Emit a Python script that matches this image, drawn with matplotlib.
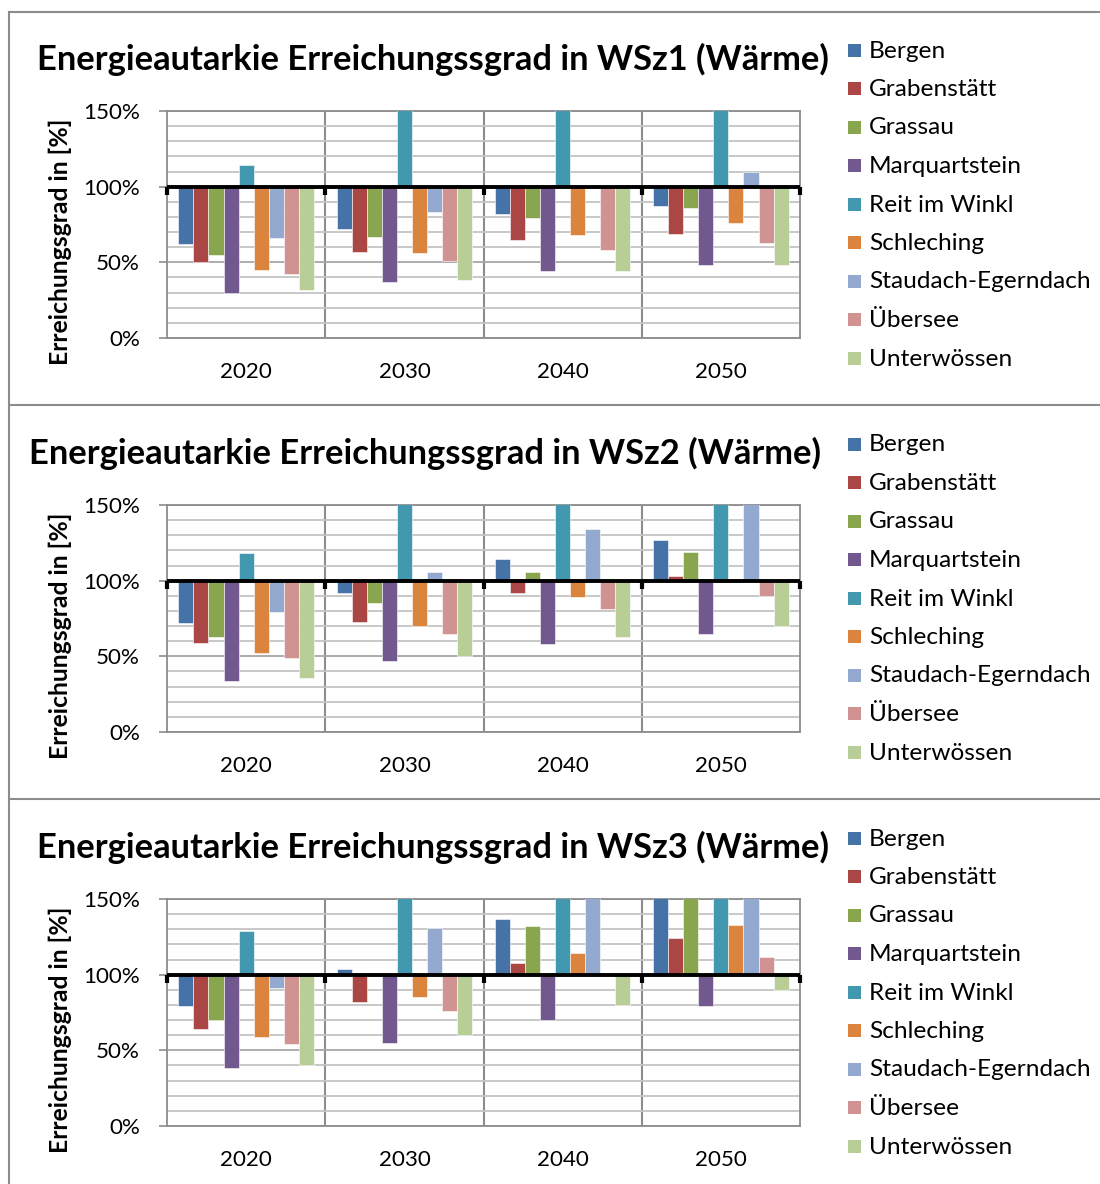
import matplotlib
matplotlib.use('Agg')
import matplotlib.pyplot as plt
from matplotlib.patches import Rectangle
from matplotlib.lines import Line2D
from matplotlib.ticker import MultipleLocator, FuncFormatter
import matplotlib.markers as mmarkers
import numpy as np

# ---------------- data ----------------
years = ['2020', '2030', '2040', '2050']
municipalities = ['Bergen', 'Grabenstätt', 'Grassau', 'Marquartstein',
                  'Reit im Winkl', 'Schleching', 'Staudach-Egerndach',
                  'Übersee', 'Unterwössen']
colors = ['#4572A7', '#AA4643', '#89A54E', '#71588F', '#4198AF',
          '#DB843D', '#93A9CF', '#D19392', '#B9CD96']
titles = ['Energieautarkie Erreichungssgrad in WSz1 (Wärme)',
          'Energieautarkie Erreichungssgrad in WSz2 (Wärme)',
          'Energieautarkie Erreichungssgrad in WSz3 (Wärme)']
ylabel_text = 'Erreichungsgrad in [%]'

# values in %, one row per municipality (2020, 2030, 2040, 2050)
wsz1 = [[62, 72, 82, 87],
        [50, 57, 65, 69],
        [55, 67, 79, 86],
        [30, 37, 44, 48],
        [114, 160, 160, 160],
        [45, 56, 68, 76],
        [66, 83, 100, 110],
        [42, 51, 58, 63],
        [32, 38, 44, 48]]
wsz2 = [[72, 92, 114, 127],
        [59, 73, 92, 103],
        [63, 85, 106, 119],
        [34, 47, 58, 65],
        [118, 160, 160, 160],
        [52, 70, 89, 100],
        [79, 106, 134, 160],
        [49, 65, 81, 90],
        [36, 50, 63, 70]]
wsz3 = [[79, 104, 137, 160],
        [64, 82, 108, 124],
        [70, 101, 132, 160],
        [38, 55, 70, 79],
        [129, 160, 160, 160],
        [59, 85, 114, 133],
        [91, 131, 160, 160],
        [54, 76, 100, 112],
        [40, 60, 80, 90]]
scenarios = [wsz1, wsz2, wsz3]

# ---------------- style ----------------
W, H = 1100, 1184
DPI = 100
FONT = 'Lato'
plt.rcParams['font.family'] = [FONT, 'DejaVu Sans']
GRAY = '#8c8c8c'

fig = plt.figure(figsize=(W / DPI, H / DPI), dpi=DPI)
renderer = fig.canvas.get_renderer()


def fx(x):
    return x / W


def fy(y):
    return 1 - y / H


def fit_size(s, target, weight='normal', base=20, vertical=False):
    t = fig.text(0, 0, s, fontsize=base, fontweight=weight)
    bb = t.get_window_extent(renderer)
    t.remove()
    return base * target / bb.width


title_fs = fit_size(titles[0], 793, 'bold')
tick_fs = fit_size('150%', 57)
leg_fs = fit_size('Staudach-Egerndach', 221)
ylab_fs = fit_size(ylabel_text, 247, 'bold')

# borders
for yy in [12, 405, 799]:
    fig.add_artist(Line2D([fx(9), fx(1100)], [fy(yy), fy(yy)], color=GRAY, lw=1.5))
fig.add_artist(Line2D([fx(9), fx(9)], [fy(12), fy(1184)], color=GRAY, lw=1.5))

n = len(municipalities)
w = 1 / (n + 1.5)
xg = np.arange(len(years))
title_x = [433, 425, 433]

for p, data in enumerate(scenarios):
    dy = 394 * p
    top, bottom = 111 + dy, 338 + dy
    ax = fig.add_axes([fx(167), fy(bottom), fx(800 - 167), (bottom - top) / H])
    for j, (name, col) in enumerate(zip(municipalities, colors)):
        vals = np.array(data[j]) / 100.0
        ax.bar(xg + (j - (n - 1) / 2) * w, vals - 1.0, width=w, bottom=1.0,
               color=col, edgecolor='white', linewidth=0.4, zorder=3)
    ax.set_xlim(-0.5, len(years) - 0.5)
    ax.set_ylim(0, 1.5)
    ax.yaxis.set_major_locator(MultipleLocator(0.5))
    ax.yaxis.set_minor_locator(MultipleLocator(0.1))
    ax.yaxis.set_major_formatter(FuncFormatter(lambda v, pos: f'{v*100:.0f}%'))
    ax.grid(axis='y', which='minor', color='#c4c4c4', lw=1.3, zorder=1)
    ax.grid(axis='y', which='major', color='#a6a6a6', lw=1.3, zorder=1)
    for b in np.arange(0.5, len(years) - 0.5, 1.0):
        ax.axvline(b, color=GRAY, lw=1.5, zorder=1)
    for s in ax.spines.values():
        s.set_color(GRAY)
        s.set_linewidth(1.3)
    ax.tick_params(axis='y', which='major', direction='out', length=6, width=1.2,
                   color=GRAY, labelsize=tick_fs, pad=13.5)
    ax.tick_params(axis='y', which='minor', length=0)
    ax.set_xticks(xg)
    ax.set_xticklabels(years)
    ax.tick_params(axis='x', length=0, labelsize=tick_fs, pad=17)
    # x axis crossing at 100%
    ax.axhline(1.0, color='black', lw=2.8, zorder=5)
    ax.plot(np.arange(-0.5, len(years), 1.0), np.ones(len(years) + 1),
            ls='none', marker=mmarkers.TICKDOWN, markersize=6, mew=3,
            color='black', zorder=6, clip_on=False)

    # title
    fig.text(fx(title_x[p]), fy(59 + dy), titles[p], fontsize=title_fs,
             fontweight='bold', ha='center', va='center')
    # y label
    fig.text(fx(60), fy(242 + dy), ylabel_text, fontsize=ylab_fs,
             fontweight='bold', rotation=90, ha='center', va='center')
    # legend
    for j, (name, col) in enumerate(zip(municipalities, colors)):
        yc = 50 + dy + 38.5 * j
        fig.add_artist(Rectangle((fx(848), fy(yc + 6.5)), 13 / W, 13 / H,
                                 facecolor=col, edgecolor='none'))
        fig.text(fx(869), fy(yc + 1), name, fontsize=leg_fs, ha='left', va='center')

fig.savefig('out.png', dpi=DPI)
